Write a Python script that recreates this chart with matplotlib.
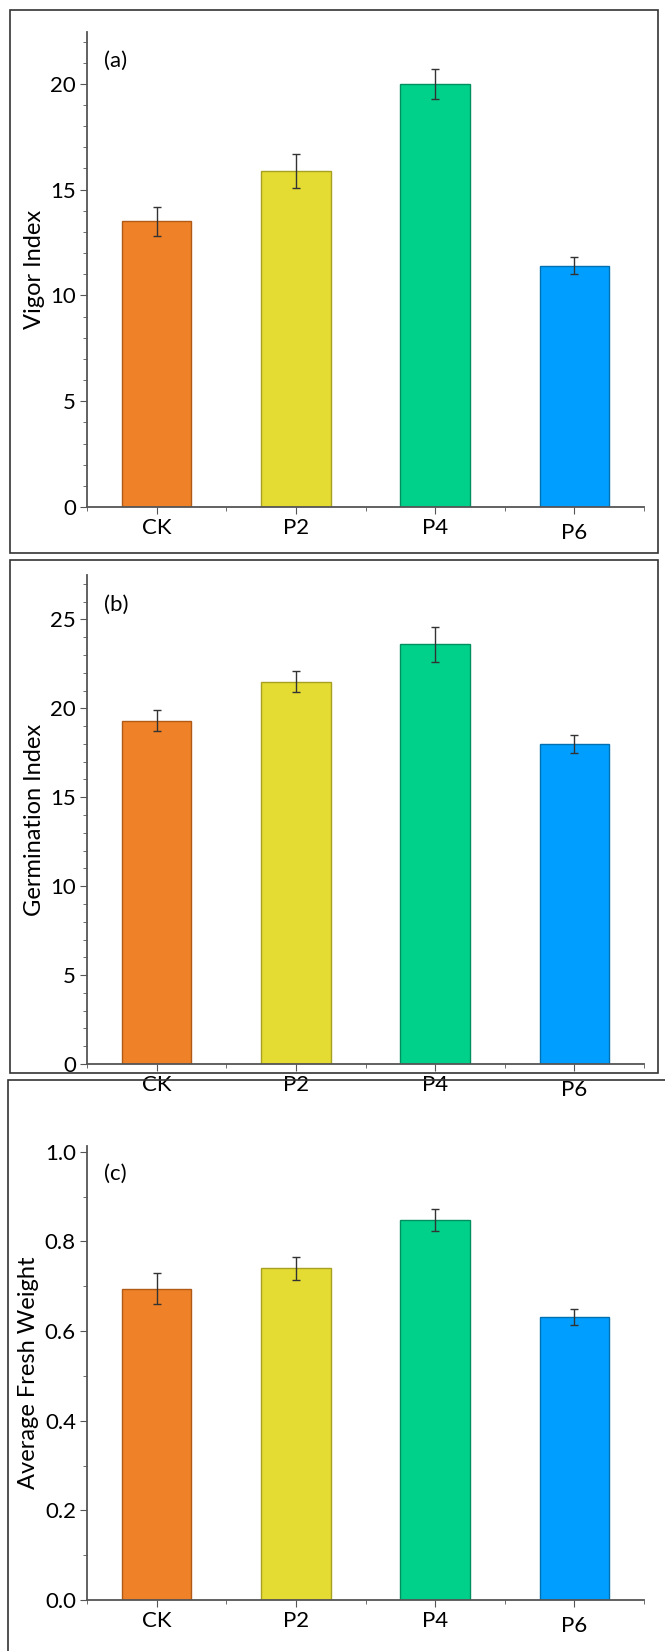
import matplotlib
matplotlib.use("Agg")
import matplotlib.pyplot as plt
from matplotlib.patches import Rectangle
from matplotlib.ticker import MultipleLocator

plt.rcParams['font.family'] = ['Lato', 'DejaVu Sans']

groups = ["CK", "P2", "P4", "P6"]
colors = ["#EF8228", "#E4DC33", "#00D18A", "#009FFF"]
edges = ["#B05A18", "#A8A020", "#009060", "#0070B0"]

vigor = [13.5, 15.9, 20.0, 11.4]
vigor_err = [0.7, 0.8, 0.7, 0.4]
germ = [19.3, 21.5, 23.6, 18.0]
germ_err = [0.6, 0.6, 1.0, 0.5]
fresh = [0.695, 0.74, 0.848, 0.632]
fresh_err = [0.035, 0.025, 0.025, 0.018]

W, H = 665, 1651
fig = plt.figure(figsize=(W / 100, H / 100), dpi=100)

def px_axes(x0, x1, ytop, ybot):
    return fig.add_axes([x0 / W, 1 - ybot / H, (x1 - x0) / W, (ybot - ytop) / H])

def frame(x0, x1, ytop, ybot):
    fig.patches.append(Rectangle((x0 / W, 1 - ybot / H), (x1 - x0) / W, (ybot - ytop) / H,
                                 transform=fig.transFigure, fill=False, lw=1.2, ec="#333333"))

panels = [
    (vigor, vigor_err, "Vigor Index", "(a)", 32, 507, 22.45, 5, 1, "%d"),
    (germ, germ_err, "Germination Index", "(b)", 575, 1064, 27.5, 5, 1, "%d"),
    (fresh, fresh_err, "Average Fresh Weight", "(c)", 1146, 1600, 1.013, 0.2, 0.1, "%.1f"),
]
frame(10, 658, 10, 553)
frame(10, 658, 560, 1073)
frame(8, 670, 1080, 1660)

for vals, errs, ylabel, tag, ytop, ybot, ymax, major, minor, fmt in panels:
    ax = px_axes(87, 644, ytop, ybot)
    x = range(len(groups))
    ax.bar(x, vals, width=0.5, color=colors, edgecolor=edges, linewidth=1.0,
           yerr=errs, capsize=3, error_kw=dict(ecolor="#333333", elinewidth=1, capthick=1))
    ax.set_xlim(-0.5, 3.5)
    ax.set_ylim(0, ymax)
    ax.set_xticks(list(x))
    ax.set_xticklabels(groups, fontsize=16)
    ax.xaxis.set_minor_locator(MultipleLocator(0.5))
    ax.yaxis.set_major_locator(MultipleLocator(major))
    ax.yaxis.set_minor_locator(MultipleLocator(minor))
    ax.yaxis.set_major_formatter(matplotlib.ticker.FormatStrFormatter(fmt))
    ax.tick_params(labelsize=16, length=5, color="#555555", pad=3)
    ax.tick_params(which="minor", length=3, color="#555555")
    for lab in ax.get_xticklabels()[3:]:
        lab.set_y(-0.01)
    ax.spines["top"].set_visible(False)
    ax.spines["right"].set_visible(False)
    for s in ("left", "bottom"):
        ax.spines[s].set_color("#555555")
        ax.spines[s].set_linewidth(1.3)
    ax.set_ylabel(ylabel, fontsize=17, labelpad=4)
    ax.text(0.03, 0.96, tag, transform=ax.transAxes, fontsize=16, va="top")

fig.savefig("out.png", dpi=100)
